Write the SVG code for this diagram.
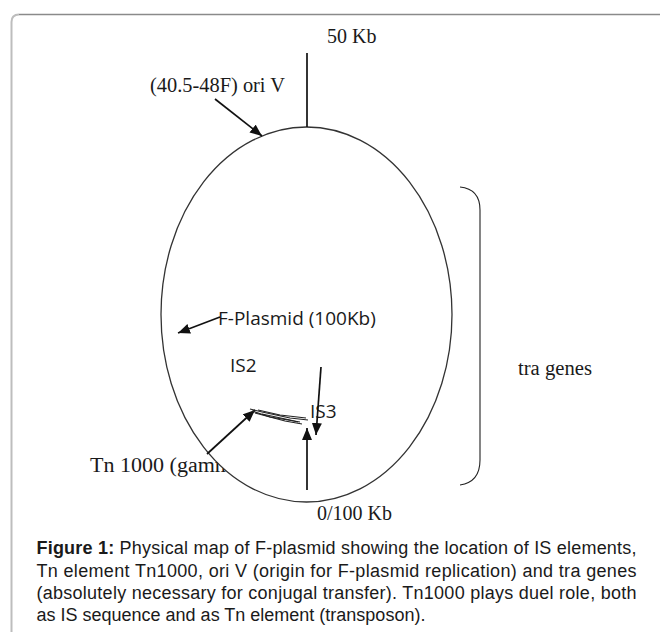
<svg xmlns="http://www.w3.org/2000/svg" width="660" height="632" viewBox="0 0 660 632">
  <style>
    .serif { font-family: "Liberation Serif", "Times New Roman", serif; font-size: 20px; fill: #1a1a1a; }
    .sans { font-family: "Open Sans", "Liberation Sans", sans-serif; font-size: 19px; fill: #1a1a1a; }
    .cap { font-family: "Liberation Sans", Arial, sans-serif; font-size: 18px; fill: #1a1a1a; }
    .ln { stroke: #111; stroke-width: 1.7; fill: none; }
    .thin { stroke: #222; stroke-width: 1.1; fill: none; }
  </style>
  <defs>
    <marker id="ah" markerUnits="userSpaceOnUse" markerWidth="14" markerHeight="12" refX="12" refY="5" orient="auto">
      <path d="M0,0 L12,5 L0,10 Z" fill="#111"/>
    </marker>
  </defs>
  <rect width="660" height="632" fill="#ffffff"/>
  <g id="frame">
    <path d="M11.5,632 V22 Q11.5,14.5 19,14.5" fill="none" stroke="#bdbdbd" stroke-width="2"/>
    <path d="M19,14.5 H660" fill="none" stroke="#8a8a8a" stroke-width="1.6"/>
  </g>
  <g id="tn1000-label">
    <text class="serif" x="90" y="472" textLength="142" lengthAdjust="spacingAndGlyphs">Tn 1000 (gamm</text>
  </g>
  <g id="plasmid">
    <ellipse cx="306.5" cy="314.5" rx="145.5" ry="187.5" fill="#ffffff" stroke="#333" stroke-width="1.3"/>
  </g>
  <g id="labels">
    <text class="serif" x="327" y="43">50 Kb</text>
    <text class="serif" x="150" y="92" textLength="135" lengthAdjust="spacingAndGlyphs">(40.5-48F) ori V</text>
    <text class="serif" x="317" y="520">0/100 Kb</text>
    <text class="serif" x="518" y="375" textLength="74" lengthAdjust="spacingAndGlyphs">tra genes</text>
    <text class="sans" x="218" y="325">F-Plasmid (100Kb)</text>
    <text class="sans" x="230" y="372">IS2</text>
    <text class="sans" x="310" y="418">IS3</text>
  </g>
  <g id="tra-bracket">
    <path class="thin" d="M460,187 Q480,189 480,210 V460 Q480,482 460,485"/>
  </g>
  <g id="connectors">
    <line class="ln" x1="307" y1="53" x2="307" y2="127"/>
    <line class="ln" x1="215" y1="99" x2="262" y2="136" marker-end="url(#ah)"/>
    <line class="ln" x1="220" y1="317" x2="178" y2="333" marker-end="url(#ah)"/>
    <line class="ln" x1="321" y1="367" x2="316" y2="435" marker-end="url(#ah)"/>
    <line class="ln" x1="307" y1="490" x2="307" y2="428" marker-end="url(#ah)"/>
    <line class="ln" x1="207" y1="454" x2="255" y2="410" marker-end="url(#ah)"/>
    <path class="thin" d="M250,409 L262,412 L290,418 L308,420"/>
    <path class="thin" d="M252,411 L270,417 L300,422"/>
    <path class="thin" d="M255,413 L285,421 L302,424"/>
    <path class="thin" d="M258,410 L280,415 L306,418"/>
    <path class="thin" d="M262,414 L290,420 L298,422"/>
  </g>
  <g id="caption">
    <text class="cap" x="36.5" y="554" textLength="600" lengthAdjust="spacing"><tspan font-weight="bold">Figure 1:</tspan>  Physical map of F-plasmid showing the location of IS elements,</text>
    <text class="cap" x="36.5" y="576.5" textLength="600" lengthAdjust="spacing">Tn element Tn1000, ori V (origin for F-plasmid replication) and tra genes</text>
    <text class="cap" x="36.5" y="599" textLength="600" lengthAdjust="spacing">(absolutely necessary for conjugal transfer). Tn1000 plays duel role, both</text>
    <text class="cap" x="36.5" y="621">as IS sequence and as Tn element (transposon).</text>
  </g>
</svg>
